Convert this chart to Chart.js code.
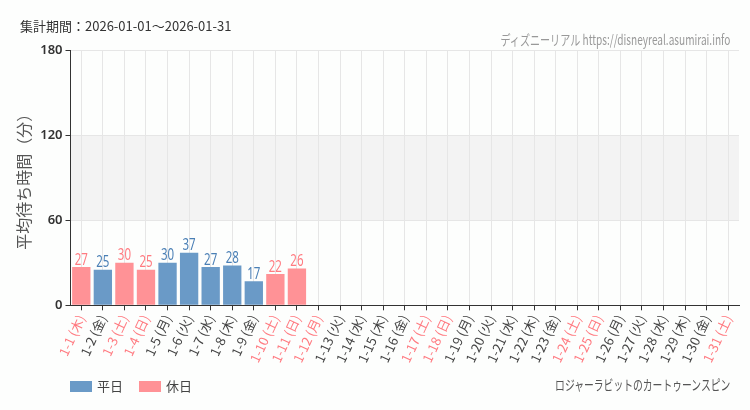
<!DOCTYPE html>
<html>
<head>
<meta charset="utf-8">
<script src="https://cdn.jsdelivr.net/npm/chart.js@4"></script>
<style>
  html, body { margin: 0; padding: 0; background: #fdfefd; }
  #wrap { position: relative; width: 750px; height: 410px; font-family: "Noto Sans CJK JP", sans-serif; }
  #chart { position: absolute; left: 0; top: 0; }
  .txt { position: absolute; white-space: nowrap; }
  #period { left: 20px; top: 16px; font-size: 13px; color: #333; }
  #credit { right: 20px; top: 29px; font-size: 14px; color: #999; transform: scaleX(0.72); transform-origin: right center; }
  #attr { right: 20px; top: 374px; font-size: 14px; color: #555; transform: scaleX(0.7); transform-origin: right center; }
  #legend { left: 70px; top: 376px; font-size: 13px; color: #444; }
  #legend span.box { display: inline-block; width: 22px; height: 11px; vertical-align: -1px; margin-right: 5px; }
  #legend span.item { margin-right: 16px; }
</style>
</head>
<body>
<div id="wrap">
  <canvas id="chart" width="750" height="410"></canvas>
  <div class="txt" id="period">集計期間：2026-01-01～2026-01-31</div>
  <div class="txt" id="credit">ディズニーリアル https://disneyreal.asumirai.info</div>
  <div class="txt" id="attr">ロジャーラビットのカートゥーンスピン</div>
  <div class="txt" id="legend"></div>
</div>
<script>
const days = ['1-1', '1-2', '1-3', '1-4', '1-5', '1-6', '1-7', '1-8', '1-9', '1-10',
  '1-11', '1-12', '1-13', '1-14', '1-15', '1-16', '1-17', '1-18', '1-19', '1-20',
  '1-21', '1-22', '1-23', '1-24', '1-25', '1-26', '1-27', '1-28', '1-29', '1-30', '1-31'];
const weekdays = ['木', '金', '土', '日', '月', '火', '水', '木', '金', '土',
  '日', '月', '火', '水', '木', '金', '土', '日', '月', '火',
  '水', '木', '金', '土', '日', '月', '火', '水', '木', '金', '土'];
// 1 = holiday (土日祝)
const holiday = [1, 0, 1, 1, 0, 0, 0, 0, 0, 1,
  1, 1, 0, 0, 0, 0, 1, 1, 0, 0,
  0, 0, 0, 1, 1, 0, 0, 0, 0, 0, 1];
const weekdayWait = [null, 25, null, null, 30, 37, 27, 28, 17, null,
  null, null, null, null, null, null, null, null, null, null,
  null, null, null, null, null, null, null, null, null, null, null];
const holidayWait = [27, null, 30, 25, null, null, null, null, null, 22,
  26, null, null, null, null, null, null, null, null, null,
  null, null, null, null, null, null, null, null, null, null, null];
const yTicks = [0, 60, 120, 180];

const blue = 'rgb(106, 154, 199)';
const pink = 'rgb(255, 146, 150)';
const blueText = 'rgb(74, 127, 181)';
const pinkText = 'rgb(255, 122, 128)';

const labels = days.map((d, i) => d + ' (' + weekdays[i] + ')');

document.getElementById('legend').innerHTML =
  '<span class="item"><span class="box" style="background:' + blue + '"></span>平日</span>' +
  '<span class="item"><span class="box" style="background:' + pink + '"></span>休日</span>';

const bandPlugin = {
  id: 'band',
  beforeDraw(chart) {
    const { ctx, chartArea, scales } = chart;
    const y1 = scales.y.getPixelForValue(120);
    const y2 = scales.y.getPixelForValue(60);
    ctx.save();
    ctx.fillStyle = '#f3f3f3';
    ctx.fillRect(chartArea.left, y1, chartArea.right - chartArea.left, y2 - y1);
    ctx.restore();
  }
};

const valueLabels = {
  id: 'valueLabels',
  afterDatasetsDraw(chart) {
    const ctx = chart.ctx;
    ctx.save();
    ctx.font = '16px "Noto Sans", sans-serif';
    ctx.textAlign = 'center';
    ctx.textBaseline = 'bottom';
    chart.data.datasets.forEach((ds, di) => {
      const meta = chart.getDatasetMeta(di);
      meta.data.forEach((bar, i) => {
        const v = ds.data[i];
        if (v === null) return;
        ctx.fillStyle = di === 0 ? blueText : pinkText;
        ctx.save();
        ctx.translate(bar.x, bar.y + 1);
        ctx.scale(0.72, 1);
        ctx.fillText(String(v), 0, 0);
        ctx.restore();
      });
    });
    ctx.restore();
  }
};

new Chart(document.getElementById('chart'), {
  type: 'bar',
  data: {
    labels: labels,
    datasets: [
      { label: '平日', data: weekdayWait, backgroundColor: blue, barPercentage: 0.85, categoryPercentage: 1 },
      { label: '休日', data: holidayWait, backgroundColor: pink, barPercentage: 0.85, categoryPercentage: 1 }
    ]
  },
  options: {
    responsive: false,
    animation: false,
    layout: { padding: { left: 10, right: 11, top: 50, bottom: 43 } },
    plugins: {
      legend: { display: false },
      tooltip: { enabled: false }
    },
    scales: {
      x: {
        stacked: true,
        grid: { offset: false, color: '#e6e6e6', tickColor: '#333', tickLength: 5 },
        border: { color: '#333' },
        ticks: {
          minRotation: 65,
          maxRotation: 65,
          autoSkip: false,
          padding: 2,
          font: { family: '"Noto Sans CJK JP", sans-serif', size: 13 },
          color: (c) => holiday[c.index] ? pinkText : '#444'
        }
      },
      y: {
        stacked: true,
        min: 0,
        max: 180,
        afterBuildTicks: (axis) => { axis.ticks = yTicks.map(v => ({ value: v })); },
        grid: { color: '#e6e6e6', tickColor: '#333', tickLength: 5 },
        border: { color: '#333' },
        ticks: {
          padding: 3,
          font: { family: '"Noto Sans", sans-serif', size: 13, weight: '600' },
          color: '#333'
        },
        title: {
          display: true,
          text: '平均待ち時間（分）',
          color: '#555',
          font: { family: '"Noto Sans CJK JP", sans-serif', size: 16 },
          padding: { bottom: 4 }
        }
      }
    }
  },
  plugins: [bandPlugin, valueLabels]
});
</script>
</body>
</html>
